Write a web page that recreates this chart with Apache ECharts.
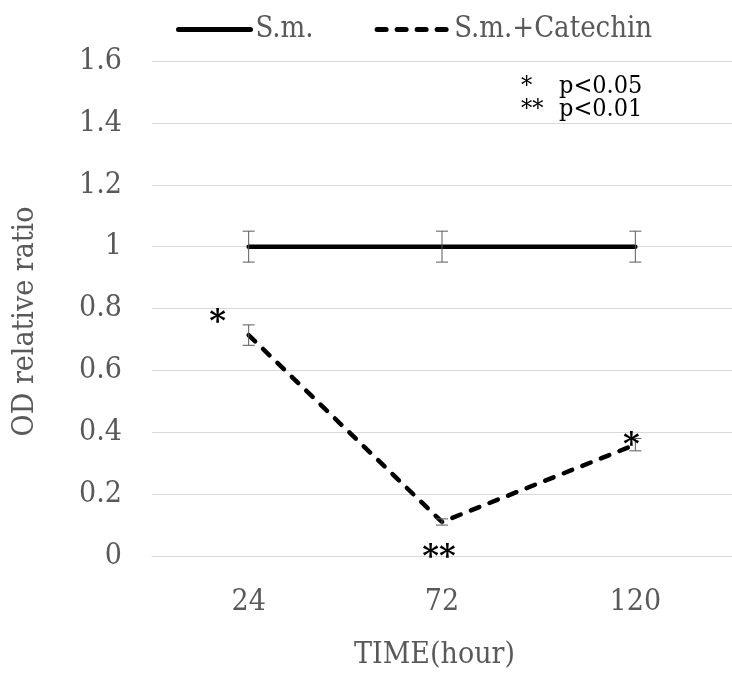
<!DOCTYPE html>
<html>
<head>
<meta charset="utf-8">
<script src="https://cdn.jsdelivr.net/npm/echarts@6/dist/echarts.min.js"></script>
<style>
  html, body { margin: 0; padding: 0; background: #ffffff; }
  #chart { width: 732px; height: 675px; }
</style>
</head>
<body>
<div id="chart"></div>
<script>
// Time points (hours)
const timePoints = ['24', '72', '120'];
// Series names
const seriesNames = ['S.m.', 'S.m.+Catechin'];
// Mean OD relative ratio and error (±)
const smMean = [1, 1, 1];
const smErr = [0.05, 0.05, 0.05];
const catMean = [0.714, 0.11, 0.36];
const catErr = [0.033, 0.01, 0.02];
// Significance marks for the catechin series
const sigMarks = ['*', '**', '*'];
// Y axis range
const yMin = 0, yMax = 1.6, yStep = 0.2;

const FONT = '"DejaVu Serif Condensed", "DejaVu Serif", "Liberation Serif", serif';
const STAR_FONT = '"DejaVu Serif", serif';
const GREY = '#595959';

// Pixel nudges for significance marks (dx, dy) around each point
const markNudge = [[-31, -12], [-3, 36], [-4, 1]];

function errorBarSeries(means, errs) {
  return {
    type: 'custom',
    silent: true,
    z: 3,
    data: means.map((m, i) => [i, m - errs[i], m + errs[i]]),
    renderItem: function (params, api) {
      const x = api.value(0);
      const lo = api.coord([x, api.value(1)]);
      const hi = api.coord([x, api.value(2)]);
      const hw = 6;
      const style = { stroke: GREY, lineWidth: 1 };
      return {
        type: 'group',
        children: [
          { type: 'line', shape: { x1: hi[0], y1: hi[1], x2: lo[0], y2: lo[1] }, style },
          { type: 'line', shape: { x1: hi[0] - hw, y1: hi[1], x2: hi[0] + hw, y2: hi[1] }, style },
          { type: 'line', shape: { x1: lo[0] - hw, y1: lo[1], x2: lo[0] + hw, y2: lo[1] }, style }
        ]
      };
    }
  };
}

const chart = echarts.init(document.getElementById('chart'), null, { renderer: 'canvas' });

chart.setOption({
  animation: false,
  backgroundColor: '#ffffff',
  grid: { left: 152, width: 587, top: 61, bottom: 115.5, containLabel: false },
  legend: {
    left: 171,
    top: 10,
    itemWidth: 72,
    itemHeight: 28,
    itemGap: 61,
    itemStyle: { opacity: 0 },
    lineStyle: { width: 5, cap: 'round' },
    textStyle: { fontFamily: FONT, fontSize: 29, color: GREY },
    data: seriesNames
  },
  xAxis: {
    type: 'category',
    data: timePoints,
    boundaryGap: true,
    axisLine: { show: true, lineStyle: { color: '#d9d9d9', width: 1 } },
    axisTick: { show: false },
    axisLabel: { margin: 31, fontFamily: FONT, fontSize: 30, color: GREY },
    name: 'TIME(hour)',
    nameLocation: 'middle',
    nameGap: 84,
    nameTextStyle: { fontFamily: FONT, fontSize: 30, color: GREY, padding: [0, 15, 0, 0] }
  },
  yAxis: {
    type: 'value',
    min: yMin,
    max: yMax,
    interval: yStep,
    axisLine: { show: false },
    axisTick: { show: false },
    splitLine: { lineStyle: { color: '#d9d9d9', width: 1 } },
    axisLabel: { margin: 30, fontFamily: FONT, fontSize: 30, color: GREY },
    name: 'OD relative ratio',
    nameLocation: 'middle',
    nameGap: 112,
    nameTextStyle: { fontFamily: FONT, fontSize: 30, color: GREY, padding: [0, 26, 0, 0] }
  },
  series: [
    {
      name: seriesNames[0],
      type: 'line',
      data: smMean,
      symbol: 'none',
      z: 2,
      lineStyle: { color: '#000000', width: 4.5, cap: 'round' },
      itemStyle: { color: '#000000' }
    },
    {
      name: seriesNames[1],
      type: 'line',
      data: catMean,
      symbol: 'none',
      z: 2,
      lineStyle: { color: '#000000', width: 4.5, type: [9, 11], cap: 'round' },
      itemStyle: { color: '#000000' }
    },
    errorBarSeries(smMean, smErr),
    errorBarSeries(catMean, catErr),
    {
      type: 'custom',
      silent: true,
      z: 4,
      data: catMean.map((m, i) => [i, m]),
      renderItem: function (params, api) {
        const p = api.coord([api.value(0), api.value(1)]);
        const n = markNudge[params.dataIndex];
        return {
          type: 'text',
          style: {
            x: p[0] + n[0],
            y: p[1] + n[1],
            text: sigMarks[params.dataIndex],
            fill: '#000000',
            font: 'bold 32px ' + STAR_FONT,
            align: 'center',
            verticalAlign: 'middle'
          }
        };
      }
    }
  ],
  graphic: [
    { type: 'text', x: 521, y: 86, style: { text: '*', font: '25px ' + FONT, fill: '#000000', verticalAlign: 'middle' } },
    { type: 'text', x: 559, y: 86, style: { text: 'p<0.05', font: '25px ' + FONT, fill: '#000000', verticalAlign: 'middle' } },
    { type: 'text', x: 521, y: 109, style: { text: '**', font: '25px ' + FONT, fill: '#000000', verticalAlign: 'middle' } },
    { type: 'text', x: 559, y: 109, style: { text: 'p<0.01', font: '25px ' + FONT, fill: '#000000', verticalAlign: 'middle' } }
  ]
});
</script>
</body>
</html>
